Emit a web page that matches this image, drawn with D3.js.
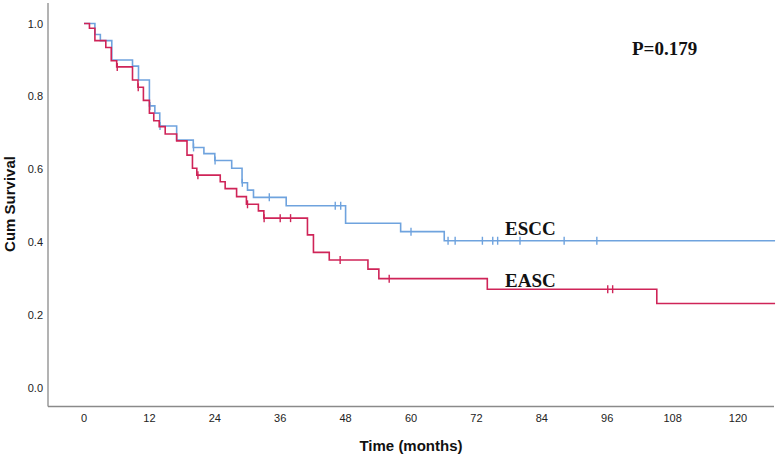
<!DOCTYPE html>
<html>
<head>
<meta charset="utf-8">
<script src="https://cdn.jsdelivr.net/npm/d3@7"></script>
<style>
  body { margin: 0; background: #fff; }
  svg { display: block; }
  .tick-label { font-family: "Liberation Sans", Arial, sans-serif; font-size: 11px; fill: #222; }
  .axis-title { font-family: "Liberation Sans", Arial, sans-serif; font-size: 15px; font-weight: bold; fill: #111; }
  .note { font-family: "Liberation Serif", "Times New Roman", serif; font-weight: bold; fill: #111; }
</style>
</head>
<body>
<div id="chart"></div>
<script>
// Kaplan-Meier steps (time in months, cumulative survival)
const esccTimes = [0, 2, 3, 5.1, 8.9, 10, 12, 13, 13.9, 17, 20.05, 22, 24, 27.1, 29, 30, 31.1, 37.1, 48, 58.1, 66.1];
const esccSurv = [1, 0.970, 0.953, 0.900, 0.883, 0.845, 0.774, 0.754, 0.719, 0.680, 0.660, 0.643, 0.624, 0.603, 0.563, 0.543, 0.523, 0.500, 0.452, 0.429, 0.404];
const esccCensored = [12.1, 13.95, 20.1, 24.05, 29.05, 34, 46.1, 47.1, 60, 66.8, 68.1, 73.1, 75, 75.9, 80, 88.1, 94.1];

const eascTimes = [0, 1, 2, 4, 5, 6, 8.9, 9.9, 10.9, 12, 12.8, 13.8, 14.9, 17, 18.9, 19.9, 20.7, 25, 25.9, 28, 29.8, 32, 33, 41, 42.1, 45, 52.1, 54.1, 74, 105.1];
const eascSurv = [1, 0.987, 0.953, 0.934, 0.898, 0.881, 0.845, 0.825, 0.789, 0.754, 0.733, 0.717, 0.697, 0.678, 0.639, 0.603, 0.584, 0.566, 0.547, 0.525, 0.504, 0.486, 0.466, 0.420, 0.372, 0.351, 0.326, 0.300, 0.271, 0.232];
const eascCensored = [6.1, 9.95, 20.9, 30, 33.05, 36, 37.9, 47, 56, 96.1, 97];

const xTicks = [0, 12, 24, 36, 48, 60, 72, 84, 96, 108, 120];
const yTicks = [0, 0.2, 0.4, 0.6, 0.8, 1.0];
const lastTime = 126.8;

const width = 777;
const height = 456;

let svg = d3.select('#chart')
            .append('svg')
            .attr('width', width)
            .attr('height', height);

let xScale = d3.scaleLinear().domain([0, 120]).range([84, 738]);
let yScale = d3.scaleLinear().domain([0, 1]).range([388, 23.5]);

const axisX = 48;
const axisY = 406.5;

// axis lines
svg.append('line')
   .attr('x1', axisX).attr('x2', axisX)
   .attr('y1', 3).attr('y2', axisY)
   .attr('stroke', '#8a8a8a').attr('stroke-width', 1.3);
svg.append('line')
   .attr('x1', axisX).attr('x2', 774)
   .attr('y1', axisY).attr('y2', axisY)
   .attr('stroke', '#8a8a8a').attr('stroke-width', 1.3);

// tick labels
svg.selectAll('.xlab')
   .data(xTicks)
   .enter()
   .append('text')
   .attr('class', 'tick-label')
   .attr('x', d => xScale(d))
   .attr('y', 422)
   .attr('text-anchor', 'middle')
   .text(d => d);
svg.selectAll('.ylab')
   .data(yTicks)
   .enter()
   .append('text')
   .attr('class', 'tick-label')
   .attr('x', 43)
   .attr('y', d => yScale(d) + 4)
   .attr('text-anchor', 'end')
   .text(d => d3.format('.1f')(d));

svg.append('text')
   .attr('class', 'axis-title')
   .attr('x', 411)
   .attr('y', 451)
   .attr('text-anchor', 'middle')
   .text('Time (months)');
svg.append('text')
   .attr('class', 'axis-title')
   .attr('transform', 'translate(15, 204) rotate(-90)')
   .attr('text-anchor', 'middle')
   .text('Cum Survival');

function survivalAt(times, surv, t) {
    let s = surv[0];
    for (let i = 0; i < times.length; i++) {
        if (times[i] <= t) s = surv[i];
    }
    return s;
}

const line = d3.line()
               .x(d => xScale(d[0]))
               .y(d => yScale(d[1]))
               .curve(d3.curveStepAfter);

function drawCurve(times, surv, censored, color) {
    let pts = times.map((t, i) => [t, surv[i]]);
    pts.push([lastTime, surv[surv.length - 1]]);
    svg.append('path')
       .attr('d', line(pts))
       .attr('fill', 'none')
       .attr('stroke', color)
       .attr('stroke-width', 1.6);
    svg.selectAll(null)
       .data(censored)
       .enter()
       .append('line')
       .attr('x1', d => xScale(d))
       .attr('x2', d => xScale(d))
       .attr('y1', d => yScale(survivalAt(times, surv, d)) - 4)
       .attr('y2', d => yScale(survivalAt(times, surv, d)) + 4)
       .attr('stroke', color)
       .attr('stroke-width', 1.4);
}

drawCurve(esccTimes, esccSurv, esccCensored, '#6fa3de');
drawCurve(eascTimes, eascSurv, eascCensored, '#cf2458');

svg.append('text')
   .attr('class', 'note')
   .attr('x', 632)
   .attr('y', 55)
   .style('font-size', '19px')
   .text('P=0.179');
svg.append('text')
   .attr('class', 'note')
   .attr('x', 505)
   .attr('y', 235)
   .style('font-size', '19px')
   .text('ESCC');
svg.append('text')
   .attr('class', 'note')
   .attr('x', 505)
   .attr('y', 287)
   .style('font-size', '19px')
   .text('EASC');
</script>
</body>
</html>
